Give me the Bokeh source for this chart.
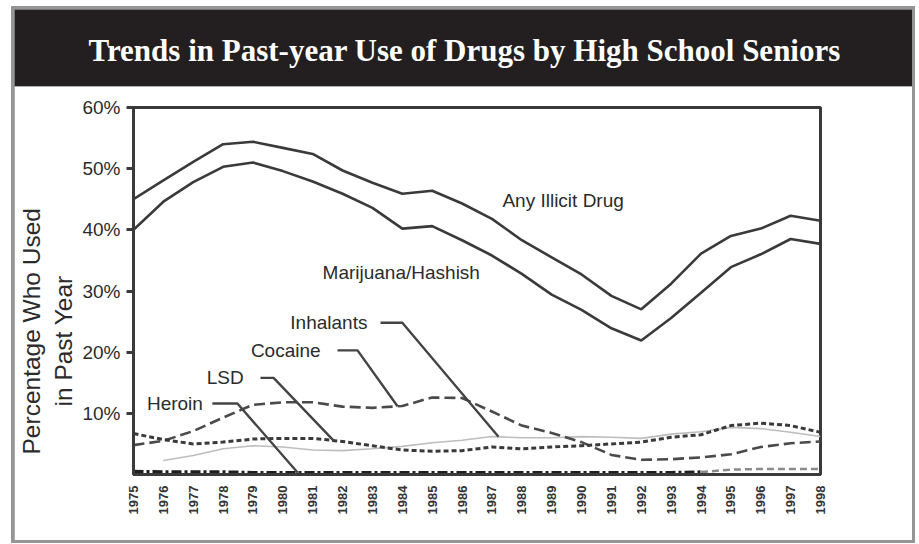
from math import pi

import numpy as np
from bokeh.embed import file_html
from bokeh.layouts import column
from bokeh.models import (ColumnDataSource, FixedTicker, Label, PrintfTickFormatter,
                          Range1d, Title)
from bokeh.plotting import figure
from bokeh.resources import INLINE

# ---- data: past-year use among high school seniors (%) ----
years = list(range(1975, 1999))
any_illicit = [45.0, 48.1, 51.1, 54.0, 54.4, 53.4, 52.4, 49.7, 47.7, 45.9, 46.4, 44.3,
               41.8, 38.3, 35.5, 32.7, 29.2, 27.0, 31.2, 36.1, 39.0, 40.2, 42.3, 41.5]
marijuana = [40.0, 44.6, 47.8, 50.3, 51.0, 49.6, 47.9, 45.9, 43.6, 40.2, 40.6, 38.3,
             35.8, 32.8, 29.4, 26.9, 23.9, 21.9, 25.6, 29.7, 33.9, 36.0, 38.5, 37.7]
cocaine = [4.8, 5.5, 7.1, 9.3, 11.4, 11.8, 11.8, 11.1, 10.9, 11.2, 12.6, 12.5,
           10.3, 8.0, 6.8, 5.3, 3.2, 2.4, 2.5, 2.8, 3.3, 4.5, 5.1, 5.4]
lsd = [6.7, 5.7, 5.0, 5.3, 5.8, 5.9, 5.9, 5.4, 4.7, 4.0, 3.8, 3.9,
       4.5, 4.2, 4.5, 4.7, 5.0, 5.3, 6.1, 6.5, 8.0, 8.4, 8.0, 6.9]
inhalant_years = list(range(1976, 1999))
inhalants = [2.3, 3.1, 4.2, 4.7, 4.5, 4.0, 3.9, 4.2, 4.6, 5.2, 5.6, 6.2,
             6.0, 6.0, 6.2, 6.1, 5.9, 6.6, 7.0, 7.7, 7.5, 6.9, 6.2]
heroin = [0.5, 0.4, 0.4, 0.4, 0.3, 0.3, 0.3, 0.3, 0.3, 0.3, 0.3, 0.3,
          0.3, 0.3, 0.3, 0.3, 0.3, 0.3, 0.3, 0.4, 0.8, 0.9, 0.9, 0.9]
y_ticks = [10, 20, 30, 40, 50, 60]

TITLE = "Trends in Past-year Use of Drugs by High School Seniors"
SANS = "Liberation Sans"
INK = "#2b2b2b"
FRAME_GRAY = "#959595"
BANNER = "#231f20"

# shared horizontal borders so both frames line up
BORDER_L, BORDER_R = 119, 92

# ---- header: black banner carrying the title ----
head = figure(width=898, height=77, output_backend="svg", toolbar_location=None,
              title=None, x_axis_type=None, y_axis_type=None,
              x_range=Range1d(0, 1), y_range=Range1d(0, 1),
              min_border_left=BORDER_L, min_border_right=BORDER_R,
              min_border_top=58, min_border_bottom=0, margin=(3, 3, 0, 3))
head.background_fill_color = BANNER
head.border_fill_color = BANNER
# an outline in the banner colour hides the seam between frame and border fills
head.outline_line_color = BANNER
head.outline_line_width = 3
head.xgrid.visible = False
head.ygrid.visible = False
head.add_layout(Title(text=TITLE, align="left", offset=-45, standoff=0,
                      text_font="Liberation Serif", text_font_style="bold",
                      text_font_size="31px", text_color="white"), "above")

# ---- main chart ----
p = figure(width=898, height=454, output_backend="svg", toolbar_location=None,
           title=None, x_range=Range1d(1975, 1998), y_range=Range1d(0, 60),
           min_border_left=BORDER_L, min_border_right=BORDER_R,
           min_border_top=21, min_border_bottom=66, margin=(0, 3, 3, 3))
p.background_fill_color = "white"
p.border_fill_color = "white"
p.outline_line_color = "#3a3a3a"
p.outline_line_width = 3
p.xgrid.visible = False
p.ygrid.visible = False

# y axis
p.yaxis.ticker = FixedTicker(ticks=y_ticks)
p.yaxis.formatter = PrintfTickFormatter(format="%d%%")
p.yaxis.major_label_text_font = SANS
p.yaxis.major_label_text_font_size = "19px"
p.yaxis.major_label_text_color = INK
p.yaxis.major_tick_out = 7
p.yaxis.major_tick_in = 0
p.yaxis.major_tick_line_width = 3
p.yaxis.major_tick_line_color = "#3a3a3a"
p.yaxis.minor_tick_line_color = None
p.yaxis.axis_line_width = 3
p.yaxis.axis_line_color = "#3a3a3a"
p.yaxis.major_label_standoff = 6

# two-line vertical axis title
p.add_layout(Title(text="in Past Year", align="left", offset=68, standoff=6,
                   text_font=SANS, text_font_size="24.5px", text_font_style="normal",
                   text_color=INK), "left")
p.add_layout(Title(text="Percentage Who Used", align="left", offset=20, standoff=0,
                   text_font=SANS, text_font_size="24.5px", text_font_style="normal",
                   text_color=INK), "left")

# x axis: one vertical label per year
p.xaxis.ticker = FixedTicker(ticks=years)
p.xaxis.major_label_orientation = pi / 2
p.xaxis.major_label_text_font = SANS
p.xaxis.major_label_text_font_style = "bold"
p.xaxis.major_label_text_font_size = "13px"
p.xaxis.major_label_text_color = "#333333"
p.xaxis.major_tick_line_color = None
p.xaxis.minor_tick_line_color = None
p.xaxis.axis_line_width = 3
p.xaxis.axis_line_color = "#3a3a3a"
p.xaxis.major_label_standoff = 5

# ---- series ----
src = ColumnDataSource(dict(year=years, any_illicit=any_illicit, marijuana=marijuana,
                            cocaine=cocaine, lsd=lsd, heroin=heroin))
inh_src = ColumnDataSource(dict(year=inhalant_years, inhalants=inhalants))

p.line("year", "inhalants", source=inh_src, line_color="#bdbdbd", line_width=1.6)
p.line("year", "cocaine", source=src, line_color="#4a4a4a", line_width=2.6,
       line_dash="11 5")
p.line("year", "lsd", source=src, line_color="#3a3a3a", line_width=3,
       line_dash="5 3")

# heroin: dark dash-dot through 1994, lighter dashes afterwards
split = years.index(1994)
p.line(years[:split + 1], heroin[:split + 1], line_color="#1e1e1e", line_width=3.5,
       line_dash="10 3 3 3")
p.line(years[split:], heroin[split:], line_color="#8a8a8a", line_width=2.5,
       line_dash="7 4")

p.line("year", "marijuana", source=src, line_color="#3a3a3a", line_width=2.6)
p.line("year", "any_illicit", source=src, line_color="#3a3a3a", line_width=2.6)

# ---- series labels and leader lines ----
label_style = dict(text_font=SANS, text_font_size="19px", text_color=INK,
                   text_align="left", text_baseline="middle",
                   background_fill_color="white", background_fill_alpha=1.0)

p.add_layout(Label(x=1987.35, y=44.8, text="Any Illicit Drug", **label_style))
p.add_layout(Label(x=1981.33, y=33.0, text="Marijuana/Hashish", **label_style))

# (text, label x, label y, stub start x, elbow x, leader end year, years, series)
callouts = [
    ("Inhalants", 1980.25, 24.8, 1983.27, 1984.00, 1987.22, inhalant_years, inhalants),
    ("Cocaine", 1978.93, 20.3, 1981.83, 1982.50, 1983.84, years, cocaine),
    ("LSD", 1977.45, 15.8, 1979.25, 1979.69, 1981.70, years, lsd),
    ("Heroin", 1975.45, 11.6, 1977.64, 1978.48, 1980.50, years, heroin),
]
xs, ys = [], []
for text, lx, ly, sx, ex, end_year, s_years, series in callouts:
    end_val = float(np.interp(end_year, s_years, series))
    xs.append([sx, ex, end_year])
    ys.append([ly, ly, end_val])
    p.add_layout(Label(x=lx, y=ly, text=text, **label_style))
p.multi_line(xs, ys, line_color="#444444", line_width=2.4)

# gray page frame: the column's background shows through the children's margins
page = column(head, p, spacing=0, margin=(6, 4, 1, 11),
              styles={"background-color": FRAME_GRAY})

open("out.html", "w").write(file_html(page, INLINE))
